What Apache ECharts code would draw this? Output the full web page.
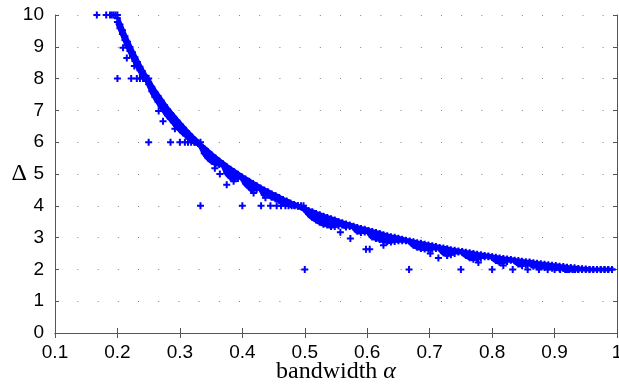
<!DOCTYPE html>
<html>
<head>
<meta charset="utf-8">
<script src="https://cdn.jsdelivr.net/npm/echarts@6/dist/echarts.min.js"></script>
<style>
  html, body { margin: 0; padding: 0; background: #fff; }
  #chart { width: 619px; height: 386px; }
</style>
</head>
<body>
<div id="chart"></div>
<script>
// dense band of points: alpha, top and bottom of the band (marker centres)
const bandAlpha = [
  0.200, 0.204, 0.208, 0.212, 0.216, 0.220, 0.224, 0.228, 0.232, 0.236, 0.240, 0.244, 0.248,
  0.250, 0.255, 0.260, 0.265, 0.270, 0.275, 0.280, 0.285, 0.290, 0.295, 0.300, 0.305, 0.310, 0.315, 0.320, 0.325, 0.330,
  0.333, 0.339, 0.345, 0.351, 0.357, 0.363, 0.369, 0.375, 0.381, 0.387, 0.393, 0.399, 0.405, 0.411, 0.417, 0.423, 0.429,
  0.435, 0.441, 0.447, 0.453, 0.459, 0.465, 0.471, 0.477, 0.483, 0.489,
  0.500, 0.506, 0.512, 0.518, 0.524, 0.530, 0.536, 0.542, 0.548, 0.554, 0.560, 0.566, 0.572, 0.578, 0.584, 0.590, 0.596,
  0.602, 0.608, 0.614, 0.620, 0.626, 0.632, 0.638, 0.644, 0.650, 0.656, 0.662, 0.668, 0.674, 0.680, 0.686, 0.692, 0.698,
  0.704, 0.710, 0.716, 0.722, 0.728, 0.734, 0.740, 0.746, 0.752, 0.758, 0.764, 0.770, 0.776, 0.782, 0.788, 0.794, 0.800,
  0.806, 0.812, 0.818, 0.824, 0.830, 0.836, 0.842, 0.848, 0.854, 0.860, 0.866, 0.872, 0.878, 0.884, 0.890, 0.896, 0.902,
  0.908, 0.914, 0.920, 0.926, 0.932, 0.938, 0.944, 0.950, 0.956, 0.962, 0.968, 0.974, 0.980, 0.986, 0.992
];
const bandUpper = [
  9.90, 9.70, 9.52, 9.33, 9.16, 8.99, 8.83, 8.67, 8.52, 8.37, 8.23, 8.10, 7.96,
  7.90, 7.74, 7.59, 7.45, 7.31, 7.17, 7.04, 6.92, 6.80, 6.68, 6.57, 6.46, 6.35, 6.25, 6.15, 6.05, 5.96,
  5.90, 5.80, 5.70, 5.60, 5.50, 5.41, 5.32, 5.23, 5.15, 5.07, 4.99, 4.91, 4.84, 4.77, 4.70, 4.63, 4.56,
  4.50, 4.44, 4.37, 4.32, 4.26, 4.20, 4.15, 4.09, 4.04, 3.99,
  3.90, 3.85, 3.81, 3.76, 3.72, 3.67, 3.63, 3.59, 3.55, 3.51, 3.47, 3.43, 3.40, 3.36, 3.32, 3.29, 3.26,
  3.22, 3.19, 3.16, 3.13, 3.09, 3.06, 3.03, 3.01, 2.98, 2.95, 2.92, 2.89, 2.87, 2.84, 2.82, 2.79, 2.77,
  2.74, 2.72, 2.69, 2.67, 2.65, 2.62, 2.60, 2.58, 2.56, 2.54, 2.52, 2.50, 2.48, 2.46, 2.44, 2.42, 2.40,
  2.38, 2.36, 2.34, 2.33, 2.31, 2.29, 2.28, 2.26, 2.24, 2.23, 2.21, 2.19, 2.18, 2.16, 2.15, 2.13, 2.12,
  2.10, 2.09, 2.07, 2.06, 2.05, 2.03, 2.02, 2.01, 2.00, 2.00, 2.00, 2.00, 2.00, 2.00, 2.00
];
const bandLower = [
  9.78, 9.58, 9.40, 9.21, 9.04, 8.87, 8.71, 8.55, 8.40, 8.26, 8.12, 8.02, 7.93,
  7.82, 7.60, 7.42, 7.27, 7.12, 6.98, 6.85, 6.74, 6.62, 6.50, 6.40, 6.30, 6.22, 6.12, 6.05, 6.00, 5.95,
  5.90, 5.65, 5.50, 5.40, 5.33, 5.30, 5.28, 5.02, 4.90, 4.84, 4.86, 4.89, 4.70, 4.58, 4.48, 4.52, 4.54,
  4.35, 4.36, 4.27, 4.22, 4.17, 4.12, 4.08, 4.04, 4.01, 3.99,
  3.88, 3.74, 3.63, 3.55, 3.48, 3.42, 3.40, 3.35, 3.35, 3.37, 3.40, 3.33, 3.35, 3.33, 3.20, 3.16, 3.18,
  3.18, 3.02, 2.97, 2.94, 2.90, 2.87, 2.86, 2.88, 2.90, 2.90, 2.90, 2.88, 2.76, 2.70, 2.66, 2.64, 2.63,
  2.64, 2.66, 2.66, 2.52, 2.46, 2.46, 2.50, 2.55, 2.54, 2.44, 2.37, 2.32, 2.33, 2.36, 2.40, 2.40, 2.38,
  2.28, 2.22, 2.21, 2.25, 2.29, 2.27, 2.17, 2.12, 2.14, 2.20, 2.10, 2.08, 2.12, 2.06, 2.07, 2.04, 2.05,
  2.02, 2.03, 2.00, 2.01, 2.00, 2.00, 2.00, 2.00, 2.00, 2.00, 2.00, 2.00, 2.00, 2.00, 2.00
];

// points sitting on the integer levels
const rowPoints = [
  [0.167, 10], [0.182, 10], [0.188, 10], [0.191, 10], [0.194, 10], [0.197, 10], [0.2, 10],
  [0.2, 8], [0.222, 8], [0.231, 8], [0.236, 8], [0.241, 8], [0.245, 8], [0.25, 8],
  [0.25, 6], [0.285, 6], [0.3, 6], [0.308, 6], [0.313, 6], [0.318, 6], [0.323, 6], [0.328, 6], [0.333, 6],
  [0.333, 4], [0.4, 4], [0.43, 4], [0.445, 4], [0.455, 4], [0.462, 4], [0.469, 4], [0.474, 4],
  [0.479, 4], [0.484, 4], [0.489, 4], [0.494, 4], [0.498, 4],
  [0.5, 2], [0.667, 2], [0.75, 2], [0.8, 2], [0.833, 2], [0.857, 2], [0.875, 2], [0.889, 2],
  [0.9, 2], [0.909, 2], [0.917, 2], [0.923, 2], [0.929, 2], [0.933, 2], [0.938, 2]
];

// isolated points below the band
const strayPoints = [
  [0.209, 8.97], [0.215, 8.65], [0.227, 8.40], [0.266, 6.98], [0.273, 6.66], [0.292, 6.42],
  [0.356, 5.18], [0.364, 5.00], [0.375, 4.66], [0.386, 4.77], [0.418, 4.40], [0.437, 4.25],
  [0.557, 3.17], [0.573, 2.97], [0.598, 2.63], [0.604, 2.63], [0.626, 2.76],
  [0.701, 2.50], [0.714, 2.36], [0.728, 2.44], [0.778, 2.22], [0.818, 2.12]
];

const BLUE = "#0000ff";
const AXIS = "#555555";
const plus = "path://M2.5 0H4.5V2.5H7V4.5H4.5V7H2.5V4.5H0V2.5H2.5Z";

const edgePoints = [];
bandAlpha.forEach((a, i) => {
  edgePoints.push([a, bandUpper[i]]);
  edgePoints.push([a, bandLower[i]]);
});

const chart = echarts.init(document.getElementById("chart"));

const tickFont = { color: "#000", fontSize: 19, fontFamily: "Liberation Sans, Arial, sans-serif" };

chart.setOption({
  animation: false,
  backgroundColor: "#fff",
  grid: { left: 55, right: 2, top: 15, bottom: 53, outerBoundsMode: "none" },
  xAxis: [
    {
      type: "value",
      min: 0.1,
      max: 1,
      interval: 0.1,
      position: "bottom",
      name: "{n|bandwidth }{a|α}",
      nameLocation: "middle",
      nameGap: 27,
      nameMoveOverlap: false,
      nameTextStyle: {
        rich: {
          n: { fontFamily: "Liberation Serif, serif", fontSize: 24, color: "#000" },
          a: { fontFamily: "Liberation Serif, serif", fontStyle: "italic", fontSize: 24, color: "#000" }
        }
      },
      axisLine: { lineStyle: { color: AXIS, width: 1 } },
      axisTick: { inside: true, length: 5, lineStyle: { color: AXIS } },
      axisLabel: Object.assign({ margin: 10, formatter: (v) => String(+v.toFixed(2)) }, tickFont),
      splitLine: { show: false }
    },
    {
      type: "value",
      min: 0.1,
      max: 1,
      interval: 0.1,
      position: "top",
      axisLine: { lineStyle: { color: AXIS, width: 1 } },
      axisTick: { inside: true, length: 5, lineStyle: { color: AXIS } },
      axisLabel: { show: false },
      splitLine: { show: false }
    }
  ],
  yAxis: [
    {
      type: "value",
      min: 0,
      max: 10,
      interval: 1,
      position: "left",
      name: "Δ",
      nameLocation: "middle",
      nameRotate: 0,
      nameGap: 28,
      nameMoveOverlap: false,
      nameTextStyle: { fontFamily: "Liberation Serif, serif", fontSize: 24, color: "#000" },
      axisLine: { show: true, lineStyle: { color: AXIS, width: 1 } },
      axisTick: { show: true, inside: true, length: 4, lineStyle: { color: AXIS } },
      axisLabel: Object.assign({ margin: 11 }, tickFont),
      splitLine: {
        show: true,
        lineStyle: { color: "#808080", width: 1, type: [1, 19.2], dashOffset: 18 }
      }
    },
    {
      type: "value",
      min: 0,
      max: 10,
      interval: 1,
      position: "right",
      axisLine: { show: true, lineStyle: { color: AXIS, width: 1 } },
      axisTick: { show: true, inside: true, length: 4, lineStyle: { color: AXIS } },
      axisLabel: { show: false },
      splitLine: { show: false }
    }
  ],
  series: [
    {
      // filled body of the dense band: marker centres padded towards the marker edge
      type: "custom",
      coordinateSystem: "cartesian2d",
      data: [[0.5, 5]],
      clip: false,
      silent: true,
      renderItem: function (params, api) {
        const top = bandAlpha.map((a, i) => {
          const p = api.coord([a, bandUpper[i]]);
          return [p[0] + 2, p[1] - 2];
        });
        const bottom = bandAlpha.map((a, i) => {
          const p = api.coord([a, bandLower[i]]);
          return [p[0] - 2, p[1] + 2];
        }).reverse();
        return {
          type: "polygon",
          shape: { points: top.concat(bottom) },
          style: { fill: BLUE, stroke: null }
        };
      }
    },
    {
      type: "scatter",
      data: edgePoints,
      symbol: plus,
      symbolSize: 7,
      clip: false,
      itemStyle: { color: BLUE, opacity: 1 }
    },
    {
      type: "scatter",
      data: rowPoints.concat(strayPoints),
      symbol: plus,
      symbolSize: 7,
      clip: false,
      itemStyle: { color: BLUE, opacity: 1 }
    }
  ]
});
</script>
</body>
</html>
